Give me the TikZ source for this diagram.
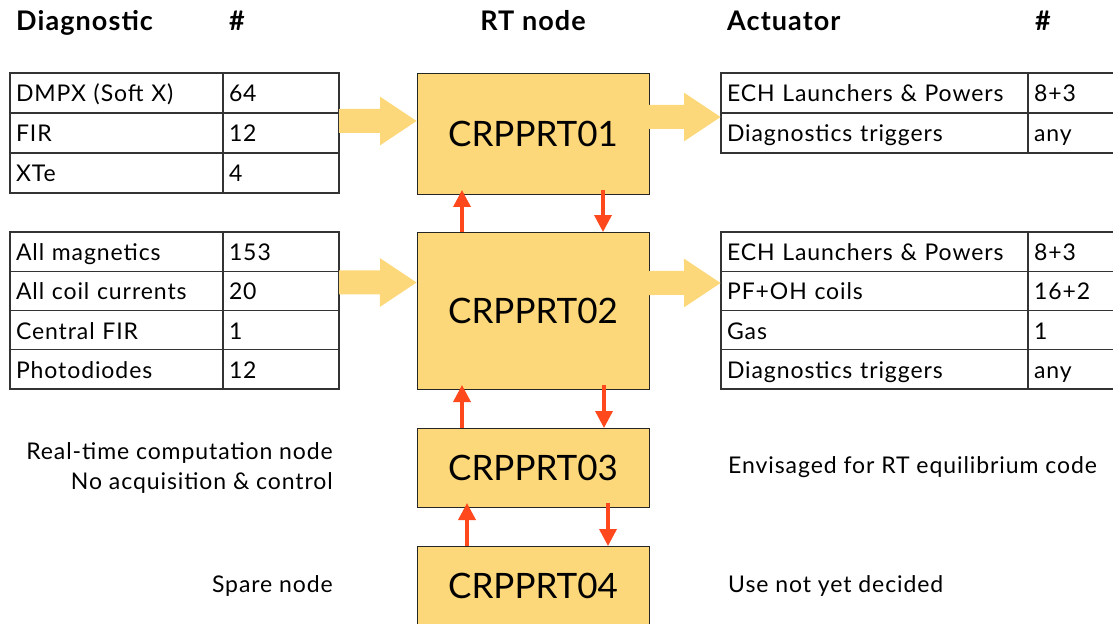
\documentclass[tikz,border=0pt]{standalone}
\usepackage{fontspec}
\setmainfont{Lato}[LetterSpace=4]
\newfontfamily\rtfont{Lato}
\usetikzlibrary{positioning,arrows.meta}

\definecolor{rtyellow}{RGB}{253,216,122}
\definecolor{linkred}{RGB}{255,72,28}

\begin{document}
\begin{tikzpicture}[
  x=1bp, y=-1bp,
  font=\fontsize{23bp}{30bp}\selectfont,
  head/.style={font=\fontsize{27bp}{30bp}\selectfont\bfseries, inner sep=0pt},
  cell/.style={draw=black!80, line width=1.2bp, outer sep=0pt, inner xsep=6bp,
               align=left, text height=18bp, text depth=0bp},
  lname/.style={cell, text width=201bp, minimum height=#1}, lname/.default=40bp,
  lnum/.style={cell, text width=104bp, minimum height=#1},   lnum/.default=40bp,
  aname/.style={cell, text width=295bp, minimum height=#1}, aname/.default=40bp,
  anum/.style={cell, text width=76bp, minimum height=#1},   anum/.default=40bp,
  rtbox/.style={draw=black!85, line width=0.8bp, fill=rtyellow, outer sep=0pt,
                minimum width=232bp, font=\rtfont\fontsize{35bp}{40bp}\selectfont},
  flow/.style={rtyellow, line width=24bp, -{Triangle[length=37bp,width=46bp]}},
  link/.style={linkred, line width=3.5bp, -{Triangle[length=17bp,width=17bp]}},
  note/.style={inner sep=0pt},
]
\useasboundingbox (0,0) rectangle (1113,624);
\clip (0,0) rectangle (1113,624);

% column headings
\node[head, anchor=base west] (hdiag)  at (16,31)   {Diagnostic};
\node[head, anchor=base]      (hdnum)  at (237,31)  {\#};
\node[head, anchor=base]      (hrt)    at (533,31)  {RT node};
\node[head, anchor=base west] (hact)   at (727,31)  {Actuator};
\node[head, anchor=base]      (hanum)  at (1043,31) {\#};

% RT nodes
\node[rtbox, minimum height=121bp] (rt1) at (533,133.5) {CRPPRT01};
\node[rtbox, minimum height=157bp, below=38bp of rt1] (rt2) {CRPPRT02};
\node[rtbox, minimum height=79bp,  below=39bp of rt2] (rt3) {CRPPRT03};
\node[rtbox, minimum height=79bp,  below=39bp of rt3] (rt4) {CRPPRT04};

% diagnostics of CRPPRT01
\node[lname, anchor=north west] (dmpx) at (10,73) {DMPX (Soft X)};
\node[lname, below=0pt of dmpx] (fir)  {FIR};
\node[lname, below=0pt of fir]  (xte)  {XTe};
\node[lnum, right=0pt of dmpx]  (dmpxn) {64};
\node[lnum, right=0pt of fir]   (firn)  {12};
\node[lnum, right=0pt of xte]   (xten)  {4};

% diagnostics of CRPPRT02
\node[lname=39.25bp, anchor=north west] (mag) at (10,232) {All magnetics};
\node[lname=39.25bp, below=0pt of mag]  (coil)  {All coil currents};
\node[lname=39.25bp, below=0pt of coil] (cfir)  {Central FIR};
\node[lname=39.25bp, below=0pt of cfir] (photo) {Photodiodes};
\node[lnum=39.25bp, right=0pt of mag]   (magn)   {153};
\node[lnum=39.25bp, right=0pt of coil]  (coiln)  {20};
\node[lnum=39.25bp, right=0pt of cfir]  (cfirn)  {1};
\node[lnum=39.25bp, right=0pt of photo] (photon) {12};

% actuators of CRPPRT01
\node[aname, anchor=north west] (ech1) at (721,73) {ECH Launchers \& Powers};
\node[aname, below=0pt of ech1] (trig1) {Diagnostics triggers};
\node[anum, right=0pt of ech1]  (ech1n)  {8+3};
\node[anum, right=0pt of trig1] (trig1n) {any};

% actuators of CRPPRT02
\node[aname=39.25bp, anchor=north west] (ech2) at (721,232) {ECH Launchers \& Powers};
\node[aname=39.25bp, below=0pt of ech2] (pfoh)  {PF+OH coils};
\node[aname=39.25bp, below=0pt of pfoh] (gas)   {Gas};
\node[aname=39.25bp, below=0pt of gas]  (trig2) {Diagnostics triggers};
\node[anum=39.25bp, right=0pt of ech2]  (ech2n)  {8+3};
\node[anum=39.25bp, right=0pt of pfoh]  (pfohn)  {16+2};
\node[anum=39.25bp, right=0pt of gas]   (gasn)   {1};
\node[anum=39.25bp, right=0pt of trig2] (trig2n) {any};

% remarks
\node[note, align=right, left=84bp of rt3] (rtcomp) {Real-time computation node\\No acquisition \& control};
\node[note, left=84bp of rt4]  (spare) {Spare node};
\node[note, right=79bp of rt3] (envis) {Envisaged for RT equilibrium code};
\node[note, right=79bp of rt4] (undec) {Use not yet decided};

% data flow
\draw[flow] ([yshift=12bp]firn.east) -- ([yshift=12.5bp]rt1.west);
\draw[flow] ([yshift=16.5bp]rt1.east) -- ([yshift=16bp]trig1.west);
\draw[flow] ([yshift=8.4bp]coiln.east) -- ([yshift=28bp]rt2.west);
\draw[flow] ([yshift=27.5bp]rt2.east) -- ([yshift=7.9bp]pfoh.west);

% links between RT nodes
\draw[link, shorten >=-4bp] ([xshift=45bp]rt2.north west) -- ([xshift=45bp]rt1.south west);
\draw[link, shorten <=-4bp] ([xshift=-46bp]rt1.south east) -- ([xshift=-46bp]rt2.north east);
\draw[link, shorten >=-4bp] ([xshift=45bp]rt3.north west) -- ([xshift=45bp]rt2.south west);
\draw[link, shorten <=-4bp] ([xshift=-45bp]rt2.south east) -- ([xshift=-45bp]rt3.north east);
\draw[link, shorten >=-4bp] ([xshift=50bp]rt4.north west) -- ([xshift=50bp]rt3.south west);
\draw[link, shorten <=-4bp] ([xshift=-41bp]rt3.south east) -- ([xshift=-41bp]rt4.north east);
\end{tikzpicture}
\end{document}
